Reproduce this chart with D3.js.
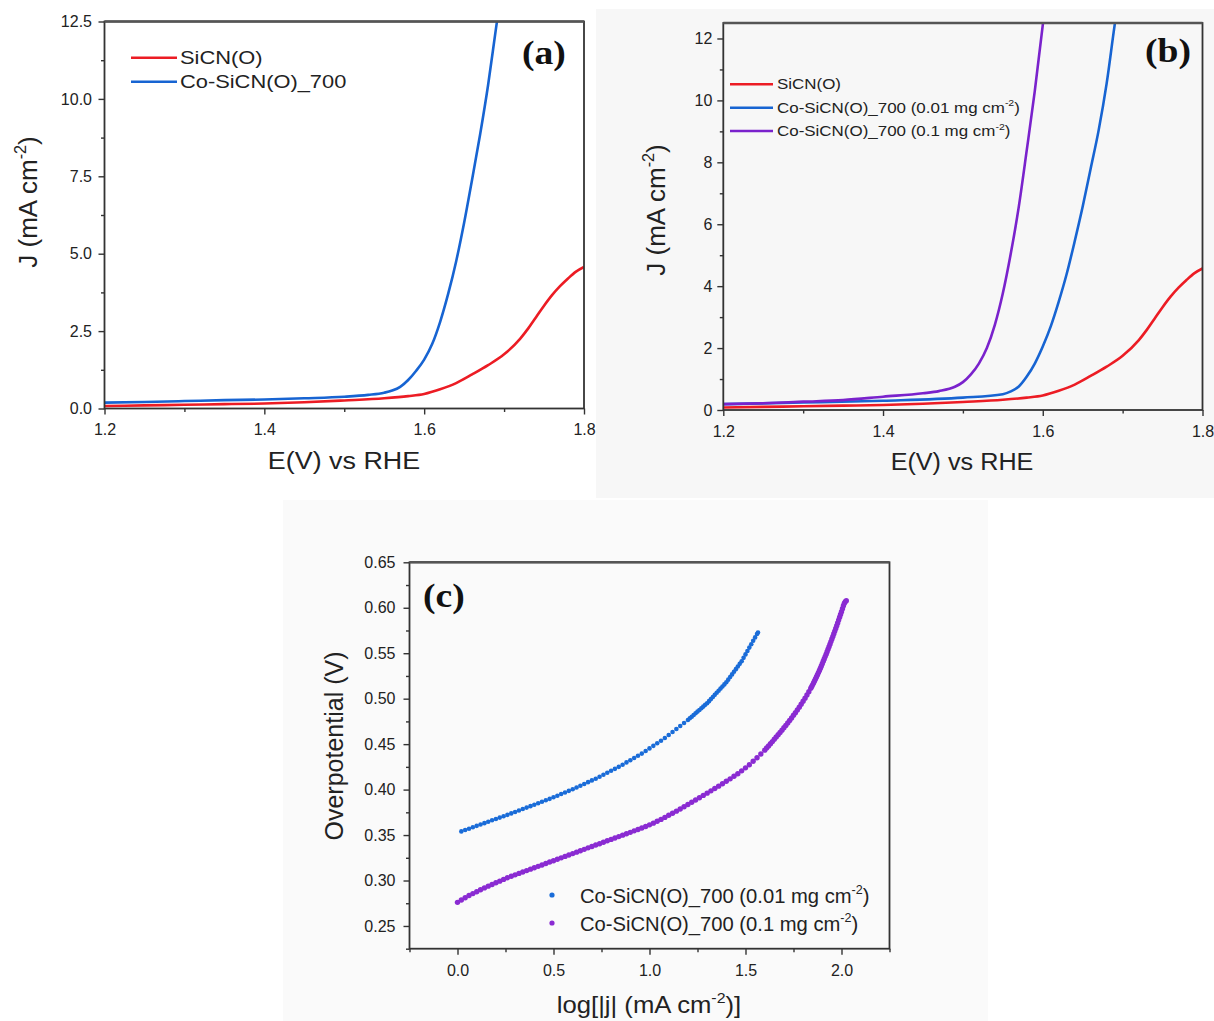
<!DOCTYPE html>
<html><head><meta charset="utf-8">
<script src="https://cdn.jsdelivr.net/npm/d3@7"></script>
<style>html,body{margin:0;padding:0;background:#fff}svg{display:block}</style>
</head><body>
<script>
// ---------------- DATA ----------------
// Panel (a)/(b): LSV curves, E (V vs RHE) and J (mA cm-2)
const sicnE = [1.20,1.25,1.30,1.35,1.40,1.45,1.50,1.55,1.58,1.60,1.62,1.64,1.66,1.68,1.70,1.72,1.73,1.74,1.75,1.76,1.77,1.78,1.79,1.80];
const sicnJ = [0.08,0.10,0.12,0.14,0.16,0.20,0.26,0.33,0.40,0.47,0.62,0.82,1.10,1.40,1.75,2.25,2.58,2.95,3.32,3.66,3.95,4.20,4.42,4.57];

const coAE = [1.20,1.25,1.30,1.35,1.40,1.45,1.50,1.53,1.55,1.56,1.57,1.58,1.59,1.60,1.61,1.62,1.63,1.64,1.65,1.66,1.67,1.68,1.69,1.695];
const coAJ = [0.19,0.21,0.24,0.27,0.29,0.33,0.38,0.44,0.51,0.58,0.70,0.92,1.22,1.58,2.08,2.80,3.70,4.75,6.00,7.40,8.85,10.45,12.30,13.2];

const co001E = [1.20,1.30,1.40,1.50,1.55,1.56,1.57,1.58,1.59,1.60,1.61,1.62,1.63,1.64,1.65,1.66,1.67,1.68,1.69,1.695];
const co001J = [0.19,0.24,0.30,0.40,0.51,0.60,0.76,1.08,1.50,2.05,2.70,3.50,4.40,5.45,6.57,7.80,9.04,10.55,12.43,13.3];

const co01E = [1.20,1.25,1.30,1.35,1.40,1.45,1.47,1.49,1.50,1.51,1.52,1.53,1.54,1.55,1.56,1.57,1.58,1.59,1.60,1.605];
const co01J = [0.19,0.22,0.27,0.32,0.43,0.54,0.61,0.75,0.90,1.15,1.50,2.00,2.75,3.77,5.06,6.57,8.40,10.30,12.43,13.4];

// Panel (c): Tafel points [log|j|, overpotential]
const tafel001 = [[0.02,0.3540],[0.04,0.3555],[0.06,0.3570],[0.08,0.3586],[0.10,0.3601],[0.12,0.3616],[0.14,0.3631],[0.16,0.3646],[0.18,0.3662],[0.20,0.3677],
[0.22,0.3692],[0.24,0.3707],[0.26,0.3722],[0.28,0.3738],[0.30,0.3754],[0.32,0.3770],[0.34,0.3786],[0.36,0.3802],[0.38,0.3818],[0.40,0.3834],
[0.42,0.3850],[0.44,0.3866],[0.46,0.3882],[0.48,0.3898],[0.50,0.3916],[0.52,0.3933],[0.54,0.3951],[0.56,0.3968],[0.58,0.3986],[0.60,0.4004],
[0.62,0.4023],[0.64,0.4043],[0.66,0.4062],[0.68,0.4082],[0.70,0.4101],[0.72,0.4120],[0.74,0.4142],[0.76,0.4163],[0.78,0.4185],[0.80,0.4207],
[0.82,0.4228],[0.84,0.4250],[0.86,0.4274],[0.88,0.4299],[0.90,0.4323],[0.92,0.4348],[0.94,0.4372],[0.96,0.4396],[0.98,0.4424],[1.00,0.4453],
[1.02,0.4481],[1.04,0.4510],[1.06,0.4538],[1.08,0.4567],[1.10,0.4600],[1.12,0.4633],[1.14,0.4666],[1.16,0.4699],[1.18,0.4732],[1.20,0.4765],
[1.21,0.4784],[1.22,0.4802],[1.23,0.4821],[1.24,0.4839],[1.25,0.4858],[1.26,0.4876],[1.27,0.4895],[1.28,0.4913],[1.29,0.4932],[1.30,0.4950],
[1.31,0.4973],[1.32,0.4996],[1.33,0.5019],[1.34,0.5042],[1.35,0.5065],[1.36,0.5088],[1.37,0.5111],[1.38,0.5134],[1.39,0.5157],[1.40,0.5180],
[1.41,0.5209],[1.42,0.5238],[1.43,0.5267],[1.44,0.5296],[1.45,0.5325],[1.46,0.5354],[1.47,0.5383],[1.48,0.5412],
[1.49,0.5449],[1.50,0.5487],[1.51,0.5524],[1.52,0.5562],[1.53,0.5599],[1.54,0.5637],[1.55,0.5674],[1.56,0.5712],[1.565,0.5727]];

const tafel01 = [[0.00,0.2760],[0.02,0.2785],[0.04,0.2810],[0.06,0.2835],[0.08,0.2856],[0.10,0.2877],[0.12,0.2898],[0.14,0.2919],[0.16,0.2938],[0.18,0.2956],
[0.20,0.2975],[0.22,0.2993],[0.24,0.3012],[0.26,0.3031],[0.28,0.3047],[0.30,0.3062],[0.32,0.3078],[0.34,0.3093],[0.36,0.3109],[0.38,0.3125],
[0.40,0.3140],[0.42,0.3156],[0.44,0.3171],[0.46,0.3187],[0.48,0.3203],[0.50,0.3218],[0.52,0.3234],[0.54,0.3249],[0.56,0.3265],[0.58,0.3281],
[0.60,0.3296],[0.62,0.3312],[0.64,0.3327],[0.66,0.3343],[0.68,0.3359],[0.70,0.3374],[0.72,0.3390],[0.74,0.3405],[0.76,0.3421],[0.78,0.3437],
[0.80,0.3452],[0.82,0.3468],[0.84,0.3483],[0.86,0.3499],[0.88,0.3515],[0.90,0.3530],[0.92,0.3546],[0.94,0.3561],[0.96,0.3577],[0.98,0.3594],
[1.00,0.3612],[1.02,0.3631],[1.04,0.3651],[1.06,0.3672],[1.08,0.3694],[1.10,0.3717],[1.12,0.3740],[1.14,0.3763],[1.16,0.3787],[1.18,0.3811],
[1.20,0.3836],[1.22,0.3861],[1.24,0.3886],[1.26,0.3911],[1.28,0.3936],[1.30,0.3961],[1.32,0.3986],[1.34,0.4012],[1.36,0.4038],[1.38,0.4064],
[1.40,0.4091],[1.42,0.4118],[1.44,0.4146],[1.46,0.4175],[1.48,0.4206],[1.50,0.4239],[1.52,0.4274],[1.54,0.4311],[1.56,0.4350],[1.58,0.4391],
[1.60,0.4434],[1.61,0.4457],[1.62,0.4480],[1.63,0.4504],[1.64,0.4528],[1.65,0.4553],[1.66,0.4578],[1.67,0.4603],[1.68,0.4628],[1.69,0.4654],
[1.70,0.4680],[1.71,0.4706],[1.72,0.4733],[1.73,0.4760],[1.74,0.4788],[1.75,0.4817],[1.76,0.4846],[1.77,0.4876],[1.78,0.4907],[1.79,0.4939],
[1.80,0.4972],[1.81,0.5006],[1.82,0.5041],[1.83,0.5077],[1.84,0.5115],[1.845,0.5135],[1.85,0.5155],[1.855,0.5176],[1.86,0.5197],[1.865,0.5219],
[1.87,0.5241],[1.875,0.5264],[1.88,0.5287],[1.885,0.5311],[1.89,0.5335],[1.895,0.5360],[1.90,0.5385],[1.905,0.5411],[1.91,0.5437],[1.915,0.5463],
[1.92,0.5490],[1.925,0.5517],[1.93,0.5544],[1.935,0.5572],[1.94,0.5600],[1.945,0.5628],[1.95,0.5656],[1.955,0.5685],[1.96,0.5714],[1.965,0.5743],
[1.97,0.5773],[1.975,0.5803],[1.98,0.5833],[1.985,0.5864],[1.99,0.5895],[1.995,0.5926],[2.00,0.5957],[2.005,0.5990],[2.01,0.6023],[2.015,0.6050],
[2.02,0.6068],[2.025,0.6078]];

// Tick values
const lsvXMajor = [1.2,1.4,1.6,1.8];
const lsvXMinor = [1.3,1.5,1.7];
const aYMajor = [0,2.5,5,7.5,10,12.5];
const aYMinor = [1.25,3.75,6.25,8.75,11.25];
const bYMajor = [0,2,4,6,8,10,12];
const bYMinor = [1,3,5,7,9,11];
const cXMajor = [0,0.5,1,1.5,2];
const cXMinor = [-0.25,0.25,0.75,1.25,1.75,2.25];
const cYMajor = [0.25,0.30,0.35,0.40,0.45,0.50,0.55,0.60,0.65];
const cYMinor = [0.225,0.275,0.325,0.375,0.425,0.475,0.525,0.575,0.625];

// Labels
const nameSiCN = "SiCN(O)";
const nameCo = "Co-SiCN(O)_700";
const nameCo001 = [{t:"Co-SiCN(O)_700 (0.01 mg cm"},{t:"-2",sup:true},{t:")"}];
const nameCo01 = [{t:"Co-SiCN(O)_700 (0.1 mg cm"},{t:"-2",sup:true},{t:")"}];

// ---------------- STYLE ----------------
const SANS = "'Liberation Sans', Arial, Helvetica, sans-serif";
const SERIF = "'Liberation Serif', 'Times New Roman', serif";
const INK = "#222";
const AX = "#333";
const RED = "#ec1c24", BLUE = "#1764d2", PURPLE = "#7a22cc";
const DOTBLUE = "#1a6cd8", DOTPURPLE = "#8a2bd2";

const svg = d3.select("body").append("svg").attr("width",1214).attr("height",1021);
const defs = svg.append("defs");
svg.append("rect").attr("x",0).attr("y",0).attr("width",1214).attr("height",1021).attr("fill","#fff");
svg.append("rect").attr("x",596).attr("y",9).attr("width",618).attr("height",489).attr("fill","#f7f7f7");
svg.append("rect").attr("x",283).attr("y",500).attr("width",705).attr("height",521).attr("fill","#fafafa");

function label(g, o){
  const t = g.append("text")
    .attr("transform",`translate(${o.x},${o.y}) rotate(${o.rot||0}) scale(${o.sx||1},1)`)
    .attr("text-anchor",o.anchor||"start")
    .attr("font-family",o.family||SANS)
    .attr("font-weight",o.weight||"normal")
    .attr("font-size",o.fs).attr("fill",o.fill||INK);
  const parts = typeof o.parts === "string" ? [{t:o.parts}] : o.parts;
  let prevSup = false;
  parts.forEach(p=>{
    const ts = t.append("tspan").text(p.t);
    if(p.sup){ ts.attr("font-size",o.fs*0.62).attr("dy",-o.fs*0.42); prevSup=true; }
    else if(prevSup){ ts.attr("dy",o.fs*0.42); prevSup=false; }
  });
  return t;
}

function panel(c){
  const xs = d3.scaleLinear().domain(c.xDomain).range([c.left,c.right]);
  const ys = d3.scaleLinear().domain(c.yDomain).range([c.bottom,c.top]);
  const g = svg.append("g");
  const id = "clip_"+c.name;
  defs.append("clipPath").attr("id",id).append("rect")
    .attr("x",c.left).attr("y",c.top).attr("width",c.right-c.left).attr("height",c.bottom-c.top);
  const style = (sel)=>{
    sel.select(".domain").remove();
    sel.selectAll(".tick line").attr("stroke",AX).attr("stroke-width",1.4);
    sel.selectAll(".tick text").attr("font-family",SANS).attr("font-size",c.tickFs).attr("fill",INK);
  };
  g.append("g").attr("transform",`translate(0,${c.bottom})`)
    .call(d3.axisBottom(xs).tickValues(c.xMinor).tickSize(3.5).tickFormat("")).call(style);
  g.append("g").attr("transform",`translate(0,${c.bottom})`)
    .call(d3.axisBottom(xs).tickValues(c.xMajor).tickSize(6).tickPadding(c.xPad).tickFormat(c.xFmt)).call(style);
  g.append("g").attr("transform",`translate(${c.left},0)`)
    .call(d3.axisLeft(ys).tickValues(c.yMinor).tickSize(3.5).tickFormat("")).call(style);
  g.append("g").attr("transform",`translate(${c.left},0)`)
    .call(d3.axisLeft(ys).tickValues(c.yMajor).tickSize(6).tickPadding(c.yPad).tickFormat(c.yFmt)).call(style);
  const marks = g.append("g").attr("clip-path",`url(#${id})`);
  g.append("rect").attr("x",c.left).attr("y",c.top).attr("width",c.right-c.left).attr("height",c.bottom-c.top)
    .attr("fill","none").attr("stroke",AX).attr("stroke-width",1.8);
  g.append("line").attr("x1",c.left).attr("x2",c.right).attr("y1",c.top).attr("y2",c.top)
    .attr("stroke","#555").attr("stroke-width",2.4);
  return {xs,ys,g,marks};
}

function lsvLine(p, E, J, color){
  const pts = d3.zip(E,J);
  p.marks.append("path").datum(pts)
    .attr("d", d3.line().x(d=>p.xs(d[0])).y(d=>p.ys(d[1])).curve(d3.curveMonotoneX))
    .attr("fill","none").attr("stroke",color).attr("stroke-width",2.6).attr("stroke-linejoin","round");
}

// ---------------- PANEL (a) ----------------
const pa = panel({name:"a", left:104.5, right:584, top:21.5, bottom:408.5,
  xDomain:[1.2,1.8], yDomain:[0,12.5], xMajor:lsvXMajor, xMinor:lsvXMinor, yMajor:aYMajor, yMinor:aYMinor,
  xFmt:d3.format(".1f"), yFmt:d3.format(".1f"), tickFs:16, xPad:9.5, yPad:6.5});
lsvLine(pa, sicnE, sicnJ, RED);
lsvLine(pa, coAE, coAJ, BLUE);
[[nameSiCN,RED,57.7],[nameCo,BLUE,81.7]].forEach(([n,col,y])=>{
  pa.g.append("line").attr("x1",131).attr("x2",177).attr("y1",y).attr("y2",y).attr("stroke",col).attr("stroke-width",2.6);
  label(pa.g,{x:180,y:y+6.3,parts:n,fs:19,sx:1.15});
});
label(pa.g,{x:522,y:64,parts:"(a)",fs:33,sx:1.14,family:SERIF,weight:"bold",fill:"#111"});
label(pa.g,{x:344,y:469,parts:"E(V) vs RHE",fs:24,sx:1.12,anchor:"middle"});
label(pa.g,{x:37,y:202,rot:-90,parts:[{t:"J (mA cm"},{t:"-2",sup:true},{t:")"}],fs:26,anchor:"middle"});

// ---------------- PANEL (b) ----------------
const pb = panel({name:"b", left:723.3, right:1202.5, top:23, bottom:410,
  xDomain:[1.2,1.8], yDomain:[0,12.5], xMajor:lsvXMajor, xMinor:lsvXMinor, yMajor:bYMajor, yMinor:bYMinor,
  xFmt:d3.format(".1f"), yFmt:d3.format("d"), tickFs:16, xPad:9.5, yPad:5});
lsvLine(pb, sicnE, sicnJ, RED);
lsvLine(pb, co001E, co001J, BLUE);
lsvLine(pb, co01E, co01J, PURPLE);
[[nameSiCN,RED,84.3],[nameCo001,BLUE,107.7],[nameCo01,PURPLE,131]].forEach(([n,col,y])=>{
  pb.g.append("line").attr("x1",730).attr("x2",773).attr("y1",y).attr("y2",y).attr("stroke",col).attr("stroke-width",2.6);
  label(pb.g,{x:777,y:y+4.8,parts:n,fs:15,sx:1.13});
});
label(pb.g,{x:1145,y:62,parts:"(b)",fs:33,sx:1.14,family:SERIF,weight:"bold",fill:"#111"});
label(pb.g,{x:962,y:470,parts:"E(V) vs RHE",fs:24,sx:1.05,anchor:"middle"});
label(pb.g,{x:665,y:210,rot:-90,parts:[{t:"J (mA cm"},{t:"-2",sup:true},{t:")"}],fs:26,anchor:"middle"});

// ---------------- PANEL (c) ----------------
const pc = panel({name:"c", left:409.5, right:889.5, top:562.3, bottom:948.7,
  xDomain:[-0.25,2.25], yDomain:[0.225,0.65], xMajor:cXMajor, xMinor:cXMinor, yMajor:cYMajor, yMinor:cYMinor,
  xFmt:d3.format(".1f"), yFmt:d3.format(".2f"), tickFs:16, xPad:9.5, yPad:8});
pc.marks.append("g").selectAll("circle").data(tafel01).join("circle")
  .attr("cx",d=>pc.xs(d[0])).attr("cy",d=>pc.ys(d[1])).attr("r",2.7).attr("fill",DOTPURPLE);
pc.marks.append("g").selectAll("circle").data(tafel001).join("circle")
  .attr("cx",d=>pc.xs(d[0])).attr("cy",d=>pc.ys(d[1])).attr("r",2.3).attr("fill",DOTBLUE);
[[nameCo001,DOTBLUE,895],[nameCo01,DOTPURPLE,923]].forEach(([n,col,y])=>{
  pc.g.append("circle").attr("cx",552).attr("cy",y).attr("r",2.6).attr("fill",col);
  label(pc.g,{x:580,y:y+7.5,parts:n,fs:20,sx:1.01});
});
label(pc.g,{x:423,y:607,parts:"(c)",fs:33,sx:1.14,family:SERIF,weight:"bold",fill:"#111"});
label(pc.g,{x:649,y:1013,parts:[{t:"log[|j| (mA cm"},{t:"-2",sup:true},{t:")]"}],fs:24,sx:1.07,anchor:"middle"});
label(pc.g,{x:343,y:746,rot:-90,parts:"Overpotential (V)",fs:25,anchor:"middle"});
</script>
</body></html>
